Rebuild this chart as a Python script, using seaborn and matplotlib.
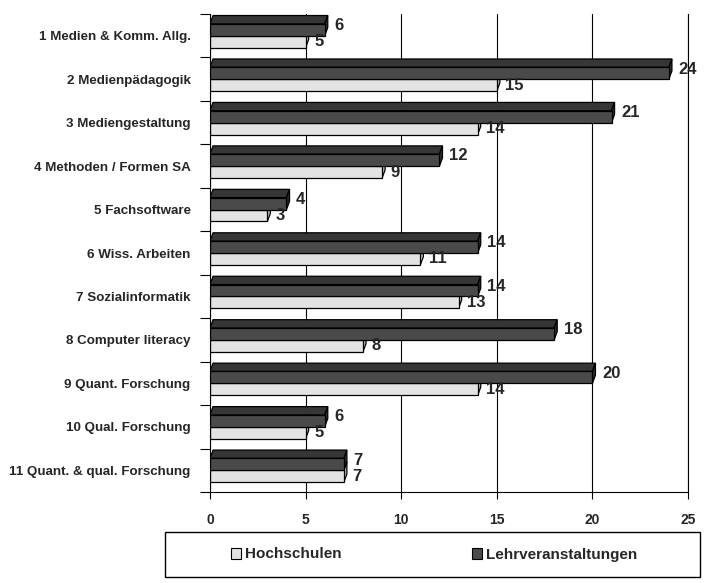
import matplotlib
matplotlib.use("Agg")
import matplotlib.pyplot as plt
import seaborn as sns
import pandas as pd
from matplotlib.patches import Polygon, Rectangle, Patch

categories = ["1 Medien & Komm. Allg.", "2 Medienpädagogik", "3 Mediengestaltung",
              "4 Methoden / Formen SA", "5 Fachsoftware", "6 Wiss. Arbeiten",
              "7 Sozialinformatik", "8 Computer literacy", "9 Quant. Forschung",
              "10 Qual. Forschung", "11 Quant. & qual. Forschung"]
hochschulen = [5, 15, 14, 9, 3, 11, 13, 8, 14, 5, 7]
lehrveranstaltungen = [6, 24, 21, 12, 4, 14, 14, 18, 20, 6, 7]
x_ticks = [0, 5, 10, 15, 20, 25]

dark = "#4a4a4a"
dark_top = "#363636"
light = "#e3e3e3"
light_top = "#f0f0f0"

df = pd.DataFrame({"Kategorie": categories,
                   "Hochschulen": hochschulen,
                   "Lehrveranstaltungen": lehrveranstaltungen})
long = df.melt(id_vars="Kategorie", var_name="Gruppe", value_name="Anzahl")

sns.set_style("white")
plt.rcParams['font.family'] = ['Liberation Sans', 'DejaVu Sans']

fig = plt.figure(figsize=(7.05, 5.83), dpi=100)
ax = fig.add_axes([210 / 705, 1 - 492 / 583, 478 / 705, 478 / 583])

sns.barplot(data=long, y="Kategorie", x="Anzahl", hue="Gruppe",
            hue_order=["Lehrveranstaltungen", "Hochschulen"],
            palette=[dark, light], width=0.55, gap=0, orient="h",
            edgecolor="black", linewidth=0.9, legend=False, ax=ax)

ax.set_xlim(0, 25)
ax.set_ylim(10.5, -0.5)
ax.set_xlabel("")
ax.set_ylabel("")

# pseudo 3D faces and value labels
dx, dy = 0.16, 0.19
for p in ax.patches:
    x0 = p.get_x()
    x1 = x0 + p.get_width()
    y0 = p.get_y()
    y1 = y0 + p.get_height()
    is_dark = p.get_facecolor()[0] < 0.5
    z = 3 if is_dark else 2
    p.set_zorder(z)
    top = Polygon([(x0, y0), (x0 + dx, y0 - dy), (x1 + dx, y0 - dy), (x1, y0)],
                  closed=True, facecolor=dark_top if is_dark else light_top,
                  edgecolor="black", linewidth=0.9, zorder=z - 0.1)
    side = Polygon([(x1, y0), (x1 + dx, y0 - dy), (x1 + dx, y1 - dy), (x1, y1)],
                   closed=True, facecolor="#2a2a2a" if is_dark else "#bdbdbd",
                   edgecolor="black", linewidth=0.9, zorder=z - 0.1)
    ax.add_patch(top)
    ax.add_patch(side)
    if is_dark:
        ax.text(x1 + 0.5, (y0 + y1) / 2 - dy / 2, f"{p.get_width():.0f}",
                ha="left", va="center", fontsize=12, fontweight="bold", zorder=5)
    else:
        ax.text(x1 + 0.45, (y0 + y1) / 2, f"{p.get_width():.0f}",
                ha="left", va="center", fontsize=12, fontweight="bold", zorder=5)

ax.set_axisbelow(True)
ax.xaxis.grid(True, color="black", linewidth=0.8)
ax.set_xticks(x_ticks)
ax.set_xticklabels([str(t) for t in x_ticks], fontweight="bold", fontsize=10)
ax.tick_params(axis="x", length=5, width=0.8, color="black", direction="out", pad=10, bottom=True)

ax.set_yticks(range(len(categories)))
ax.set_yticklabels(categories, fontweight="bold", fontsize=9.6)
ax.tick_params(axis="y", which="major", length=0, pad=14)
ax.set_yticks([i - 0.5 for i in range(len(categories) + 1)], minor=True)
ax.tick_params(axis="y", which="minor", length=7, width=0.8, color="black", direction="out", left=True)

for s in ["left", "bottom", "right"]:
    ax.spines[s].set_color("black")
    ax.spines[s].set_linewidth(0.8)
ax.spines["top"].set_visible(False)

# legend box
fig.add_artist(Rectangle((165 / 705, 6 / 583), 535 / 705, 45 / 583,
                         transform=fig.transFigure, fill=False,
                         edgecolor="black", linewidth=1))
handles = [Patch(facecolor=light, edgecolor="black", linewidth=0.8, label="Hochschulen"),
           Patch(facecolor=dark, edgecolor="black", linewidth=0.8, label="Lehrveranstaltungen")]
fig.legend(handles=handles, loc="center", bbox_to_anchor=(434 / 705, 1 - 554.5 / 583),
           ncol=2, frameon=False, handlelength=0.7, handleheight=0.7,
           handletextpad=0.25, columnspacing=8.5,
           prop={"weight": "bold", "size": 11})

fig.savefig("out.png", dpi=100)
